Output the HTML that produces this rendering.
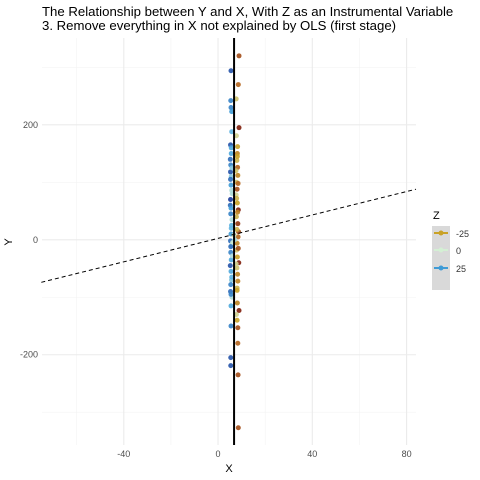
<!DOCTYPE html>
<html><head><meta charset="utf-8"><style>
body{margin:0;background:#fff;font-family:"Liberation Sans",sans-serif}
svg{display:block}
</style></head><body>
<svg id="chart" width="480" height="480" xmlns="http://www.w3.org/2000/svg">
<text x="42" y="16" font-size="13.2" fill="#000">The Relationship between Y and X, With Z as an Instrumental Variable</text>
<text x="42" y="30" font-size="13.2" fill="#000">3. Remove everything in X not explained by OLS (first stage)</text>
<g id="grid"></g><g id="marks"></g><g id="axes"></g>
<text x="229" y="472" font-size="11" text-anchor="middle">X</text>
<text x="12" y="242" font-size="11" text-anchor="middle" transform="rotate(-90 12 242)">Y</text>
<g>
<text x="433" y="219" font-size="11">Z</text>
<rect x="432" y="226" width="18" height="64" fill="#d9d9d9"/>
<line x1="434" x2="448" y1="233" y2="233" stroke="#c9a227" stroke-width="2"/>
<circle cx="441" cy="233" r="2.5" fill="#c9a227"/>
<line x1="434" x2="448" y1="250" y2="250" stroke="#d4efd4" stroke-width="2"/>
<circle cx="441" cy="250" r="2.5" fill="#d4efd4"/>
<line x1="434" x2="448" y1="268" y2="268" stroke="#3f9bd6" stroke-width="2"/>
<circle cx="441" cy="268" r="2.5" fill="#3f9bd6"/>
<text x="456" y="237" font-size="9" fill="#333">-25</text>
<text x="456" y="254" font-size="9" fill="#333">0</text>
<text x="456" y="272" font-size="9" fill="#333">25</text>
</g>
</svg>
<script>
const xTicks=[-40,0,40,80];
const yTicks=[-200,0,200];
const xMinor=[-60,-20,20,60];
const yMinor=[-300,-100,100,300];
const pointX=[8.9,5.5,8.6,7.7,5.4,5.5,5.8,8.9,5.8,7.8,5.3,5.6,8.3,8.2,5.2,5.4,8.0,8.3,5.3,5.6,8.4,7.9,5.5,5.8,8.1,7.7,5.3,5.2,8.2,8.6,5.4,5.9,7.8,8.4,5.6,5.5,8.7,8.5,5.3,5.8,8.1,7.9,5.4,5.6,8.2,8.8,5.2,5.5,8.0,8.3,5.7,5.4,8.1,8.9,5.3,5.9,8.2,7.8,5.5,8.4,5.4,8.1,5.5,5.4,8.5,8.6,8.4,6.2,6.8,7.1,
5.6,8.2,5.9,7.6,5.3,8.5,6.0,7.9,5.5,8.3,5.7,8.0,5.4,8.6,6.1,7.7,5.8,8.4,5.5,8.1];
const pointY=[320,294,270,245,242,230,223,195,188,181,165,160,162,150,140,130,138,126,118,110,112,100,95,86,88,78,70,60,64,52,45,35,40,28,20,10,14,5,-2,-10,-6,-18,-22,-35,-30,-40,-45,-55,-49,-60,-70,-78,-84,-123,-90,-100,-110,-130,-115,-153,-205,-140,-150,-219,-235,-327,-180,-5,8,0,
150,145,125,120,105,98,80,72,55,48,25,18,-12,-15,-28,-42,-65,-72,-95,-88];
const pointZ=[-40,40,-35,-15,30,30,25,-50,15,-10,40,20,-25,-30,35,30,-20,-35,40,10,-30,-15,25,5,-40,-10,45,35,-25,-50,30,5,-20,-45,15,25,-40,-35,35,10,-30,-15,30,20,-25,-50,40,20,-15,-30,10,30,-20,-50,35,5,-30,-10,20,-40,40,-25,30,40,-40,-40,-35,0,-5,5,
20,-25,10,-15,35,-35,5,-20,25,-30,15,-20,35,-40,5,-10,15,-30,30,-25];
const lineX=[-75,84];
const lineY=[-74,88];
const X0=-74.7,X1=84.0,Y0=-357,Y1=351;
const PL=42,PR=416,PT=38,PB=445;
const sx=v=>PL+(v-X0)/(X1-X0)*(PR-PL);
const sy=v=>PB-(v-Y0)/(Y1-Y0)*(PB-PT);
const NS="http://www.w3.org/2000/svg";
function mk(t,a,p){const e=document.createElementNS(NS,t);for(const k in a)e.setAttribute(k,a[k]);p.appendChild(e);return e;}
const grid=document.getElementById('grid'),marks=document.getElementById('marks'),axes=document.getElementById('axes');
const stops=[[-50,[127,29,10]],[-35,[181,101,29]],[-25,[201,162,39]],[0,[212,239,212]],[15,[95,180,225]],[25,[63,155,214]],[45,[26,58,154]]];
function col(z){z=Math.max(-50,Math.min(45,z));for(let i=0;i<stops.length-1;i++){const[a,ca]=stops[i],[b,cb]=stops[i+1];if(z<=b){const t=(z-a)/(b-a);return 'rgb('+ca.map((c,j)=>Math.round(c+(cb[j]-c)*t)).join(',')+')';}}return 'rgb(26,58,154)';}
xMinor.forEach(v=>{const l=mk('line',{x1:sx(v),x2:sx(v),y1:PT,y2:PB,stroke:'#f3f3f3','stroke-width':0.6},grid);

});
yMinor.forEach(v=>{const l=mk('line',{x1:PL,x2:PR,y1:sy(v),y2:sy(v),stroke:'#f3f3f3','stroke-width':0.6},grid);

});
xTicks.forEach(v=>{const l=mk('line',{x1:sx(v),x2:sx(v),y1:PT,y2:PB,stroke:'#ebebeb','stroke-width':1.1},grid);


const t=mk('text',{x:sx(v),y:PB+12,'font-size':9,fill:'#4d4d4d','text-anchor':'middle'},axes);t.textContent=v;

});
yTicks.forEach(v=>{const l=mk('line',{x1:PL,x2:PR,y1:sy(v),y2:sy(v),stroke:'#ebebeb','stroke-width':1.1},grid);


const t=mk('text',{x:PL-4,y:sy(v)+3,'font-size':9,fill:'#4d4d4d','text-anchor':'end'},axes);t.textContent=v;

});
pointX.forEach((x,i)=>{const c=mk('circle',{cx:sx(x),cy:sy(pointY[i]),r:2.5,fill:col(pointZ[i]),'fill-opacity':0.9},marks);

});
const dl=mk('line',{x1:sx(lineX[0]),y1:sy(lineY[0]),x2:sx(lineX[1]),y2:sy(lineY[1]),stroke:'#000','stroke-width':1,'stroke-dasharray':'4,3'},marks);


const meanX=6.8;
const vl=mk('line',{x1:sx(meanX),x2:sx(meanX),y1:PT,y2:PB,stroke:'#000','stroke-width':2},marks);


</script>
</body></html>
